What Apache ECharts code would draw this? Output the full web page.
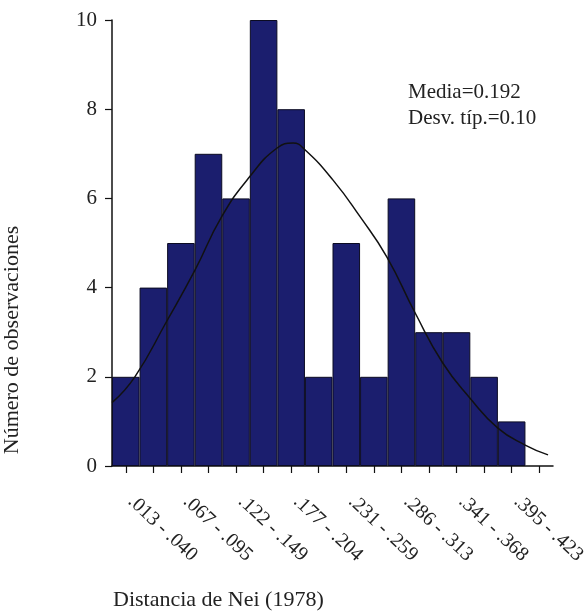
<!DOCTYPE html>
<html>
<head>
<meta charset="utf-8">
<script src="https://cdn.jsdelivr.net/npm/echarts@6/dist/echarts.min.js"></script>
<style>html,body{margin:0;padding:0;background:#fff}#c{width:587px;height:614px}</style>
</head>
<body>
<div id="c"></div>
<script>
// Bin labels (class intervals of Nei distance); last slot is an empty category the axis extends into
const categories = ['.013 - .040', '.040 - .067', '.067 - .095', '.095 - .122', '.122 - .149',
  '.149 - .177', '.177 - .204', '.204 - .231', '.231 - .259', '.259 - .286', '.286 - .313',
  '.313 - .341', '.341 - .368', '.368 - .395', '.395 - .423', ''];
// Observed counts per bin
const counts = [2, 4, 5, 7, 6, 10, 8, 2, 5, 2, 6, 3, 3, 2, 1];
// Fitted normal curve: position in bin units from the axis origin, and height
const curveX = [0, 0.83, 1.98, 3.01, 3.98, 5.0, 5.99, 6.57, 7.0, 8.02, 9.0, 9.97, 11.0, 12.0, 12.99, 14.0, 14.99, 15.82];
const curveY = [1.42, 2.0, 3.24, 4.39, 5.59, 6.49, 7.13, 7.24, 7.09, 6.41, 5.59, 4.69, 3.43, 2.31, 1.52, 0.85, 0.47, 0.25];
const yTicks = [0, 2, 4, 6, 8, 10];
const statsText = ['Media=0.192', 'Desv. típ.=0.10'];
const xTitle = 'Distancia de Nei (1978)';
const yTitle = 'Número de observaciones';

const FONT = "'Liberation Serif', 'Times New Roman', serif";
const chart = echarts.init(document.getElementById('c'), null, {renderer: 'canvas'});
chart.setOption({
  animation: false,
  backgroundColor: '#fff',
  grid: {left: 112, right: 34, top: 20, bottom: 148, containLabel: false, outerBoundsMode: 'none'},
  xAxis: [{
    type: 'category',
    data: categories,
    boundaryGap: true,
    axisLine: {show: true, lineStyle: {color: '#111', width: 1.5}},
    axisTick: {show: true, alignWithLabel: true, interval: 0, length: 7, lineStyle: {color: '#111', width: 1.2}},
    axisLabel: {interval: 1, rotate: -43, margin: 28, padding: [0, 0, 0, 7], fontFamily: FONT, fontSize: 20, color: '#222'},
    splitLine: {show: false}
  }, {
    type: 'value', min: 0, max: categories.length, show: false
  }],
  yAxis: {
    type: 'value', min: yTicks[0], max: yTicks[yTicks.length - 1], interval: 2,
    axisLine: {show: true, lineStyle: {color: '#111', width: 1.5}},
    axisTick: {show: true, length: 7, lineStyle: {color: '#111', width: 1.2}},
    axisLabel: {margin: 15, fontFamily: FONT, fontSize: 21, color: '#222'},
    splitLine: {show: false}
  },
  series: [{
    type: 'bar',
    data: counts,
    barWidth: '100%',
    barCategoryGap: 0,
    itemStyle: {color: '#1b1e6e', borderColor: '#0b0b22', borderWidth: 1}
  }, {
    type: 'line',
    xAxisIndex: 1,
    data: curveX.map((x, i) => [x, curveY[i]]),
    smooth: true,
    showSymbol: false,
    lineStyle: {color: '#111', width: 1.5}
  }],
  graphic: [
    {type: 'text', left: 408, top: 82, style: {text: statsText[0], font: '21px ' + FONT, fill: '#222'}},
    {type: 'text', left: 408, top: 108, style: {text: statsText[1], font: '21px ' + FONT, fill: '#222'}},
    {type: 'text', left: 113, top: 589, style: {text: xTitle, font: '22px ' + FONT, fill: '#222'}},
    {type: 'text', x: 12, y: 340, rotation: Math.PI / 2,
      style: {text: yTitle, font: '22px ' + FONT, fill: '#222', align: 'center', verticalAlign: 'middle'}}
  ]
});
</script>
</body>
</html>
